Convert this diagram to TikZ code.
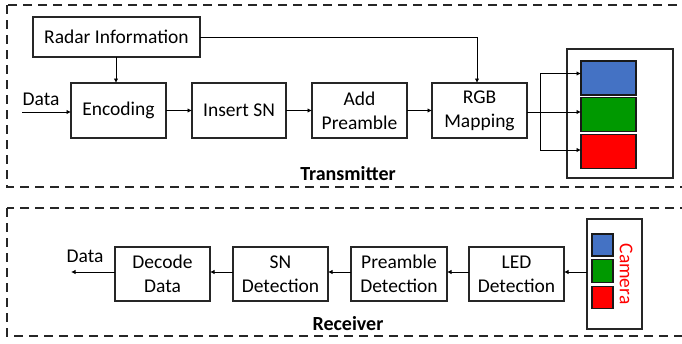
\documentclass[tikz,border=0pt]{standalone}
\usepackage{fontspec}
\setmainfont{Carlito}
\usetikzlibrary{arrows.meta}
\definecolor{ledblue}{HTML}{4472C4}
\definecolor{ledgreen}{HTML}{009900}
\definecolor{ledred}{HTML}{FF0000}
\begin{document}
\begin{tikzpicture}[x=1pt,y=-1pt,
  every node/.style={inner sep=0pt, outer sep=0pt},
  blk/.style={draw=black!85, line width=1.1pt, minimum width=95pt, minimum height=55pt,
              align=center, font=\fontsize{19.5}{23.8}\selectfont},
  lbl/.style={font=\fontsize{19.5}{23.8}\selectfont},
  ttl/.style={font=\fontsize{20}{24}\selectfont\bfseries},
  frame/.style={draw=black!85, line width=1.2pt, dash pattern=on 9pt off 6pt},
  panel/.style={draw=black!85, line width=1.2pt},
  led/.style={draw=black!90, line width=1.3pt},
  conn/.style={draw=black, line width=0.9pt, -{Latex[length=4.5pt,width=4.5pt]}},
  wire/.style={draw=black, line width=0.9pt}]
\useasboundingbox (0,0) rectangle (682,343);
\clip (0,0) rectangle (682,343);

% section frames
\draw[frame] (7,5) rectangle (700,187);
\draw[frame] (7,208) rectangle (700,336);

% ---------------- transmitter ----------------
\node[blk, minimum width=167pt, minimum height=40pt] (radar) at (116.5,37) {Radar Information};
\node[blk] (enc) at (118.5,110.5) {Encoding};
\node[blk, minimum width=94pt] (ins) at (239,110.5) {Insert SN};
\node[blk] (pre) at (359.5,110.5) {Add\\Preamble};
\node[blk] (rgb) at (479.5,110.5) {RGB\\Mapping};

\node[panel, minimum width=106pt, minimum height=129pt] (txpanel) at (620,113.5) {};
\node[led, fill=ledblue,  minimum width=55pt, minimum height=34pt] (blue)  at (608.5,78) {};
\node[led, fill=ledgreen, minimum width=55pt, minimum height=34pt] (green) at (608.5,114.5) {};
\node[led, fill=ledred,   minimum width=55pt, minimum height=34pt] (red)   at (608.5,151.5) {};

\coordinate (datain) at (22,112);
\node[lbl, anchor=base] (datainlbl) at (41,105) {Data};
\node[ttl, anchor=base] (txtitle) at (348,180) {Transmitter};

\draw[conn] (datain) -- (enc.west |- datain);
\draw[conn] (radar.south -| 116,0) -- (enc.north -| 116,0);
\draw[conn] (radar.east) -| ([xshift=-2.5pt]rgb.north);
\draw[conn] (enc) -- (ins);
\draw[conn] (ins) -- (pre);
\draw[conn] (pre) -- (rgb);
\coordinate (fan) at (540,112);
\draw[wire] (rgb.east |- fan) -- (fan);
\draw[conn] (fan) |- ([yshift=4.5pt]blue.west);
\draw[conn] (fan) -- ([yshift=2.5pt]green.west);
\draw[conn] (fan) |- ([yshift=1.5pt]red.west);

% ---------------- receiver ----------------
\node[blk, minimum height=54pt] (dec) at (162.5,274) {Decode\\Data};
\node[blk, minimum height=54pt] (snd) at (280.5,274) {SN\\Detection};
\node[blk, minimum width=96pt, minimum height=54pt] (prd) at (399,274) {Preamble\\Detection};
\node[blk, minimum height=54pt] (ledd) at (516.5,274) {LED\\Detection};

\node[panel, minimum width=55pt, minimum height=110pt] (cam) at (614.5,274) {};
\node[led, fill=ledblue,  minimum width=21pt, minimum height=22pt] (cblue)  at (602.5,245) {};
\node[led, fill=ledgreen, minimum width=21pt, minimum height=23pt] (cgreen) at (602.5,271) {};
\node[led, fill=ledred,   minimum width=21pt, minimum height=22pt] (cred)   at (602.5,297.5) {};
\node[lbl, text=ledred, rotate=-90] (camlbl) at (626,274) {Camera};

\coordinate (dataout) at (71,272);
\node[lbl, anchor=base] (dataoutlbl) at (85,262) {Data};
\node[ttl, anchor=base] (rxtitle) at (348,330) {Receiver};

\draw[conn] (cam.west |- 0,272) -- (ledd.east |- 0,272);
\draw[conn] (ledd.west |- 0,272) -- (prd.east |- 0,272);
\draw[conn] (prd.west |- 0,272) -- (snd.east |- 0,272);
\draw[conn] (snd.west |- 0,272) -- (dec.east |- 0,272);
\draw[conn] (dec.west |- dataout) -- (dataout);
\end{tikzpicture}
\end{document}
